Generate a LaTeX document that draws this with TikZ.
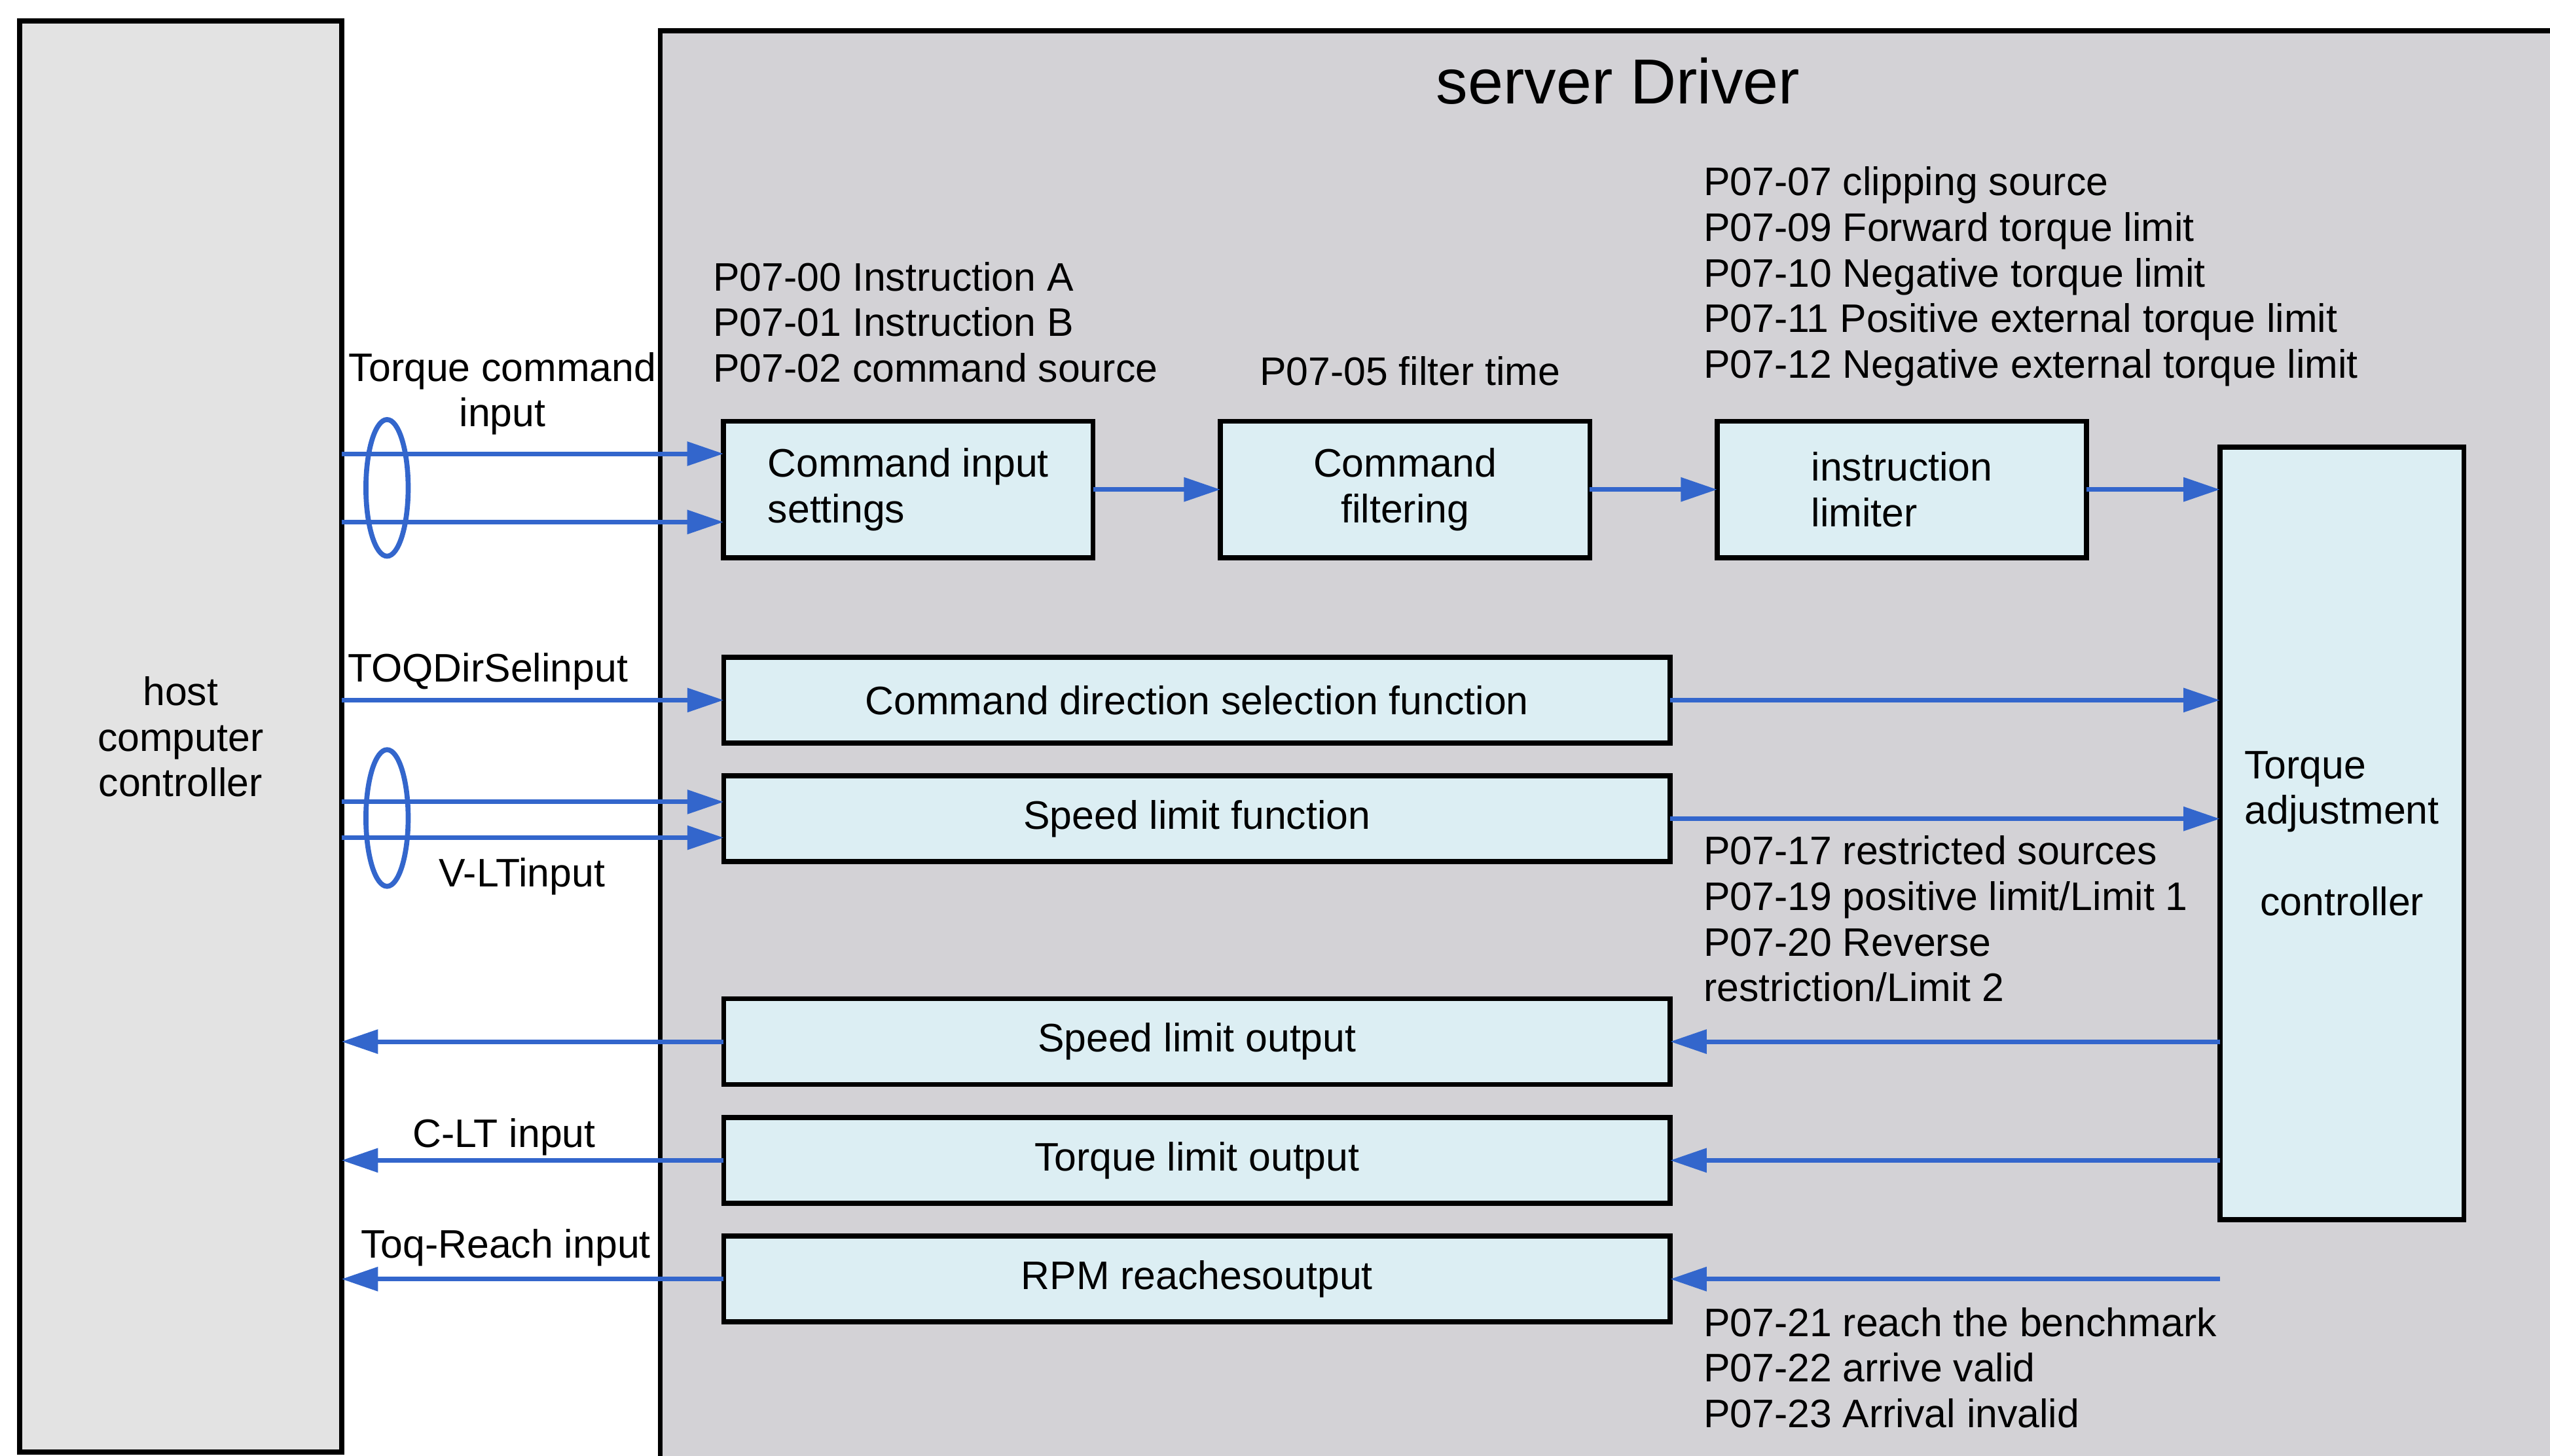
\documentclass[tikz,border=0pt]{standalone}
\usepackage{fontspec}
\setmainfont{Liberation Sans}
\usetikzlibrary{arrows.meta,calc,positioning}
\definecolor{drvink}{HTML}{000000}
\definecolor{drvhost}{HTML}{E3E3E3}
\definecolor{drvpanel}{HTML}{D3D2D6}
\definecolor{drvbox}{HTML}{DCEEF3}
\definecolor{drvwire}{HTML}{3366CC}
\tikzset{
  every picture/.style={font=\fontsize{8.7}{9.96}\selectfont,text=drvink},
  block/.style={rectangle,draw=drvink,fill=drvbox,line width=1.1pt,
    outer sep=0pt,inner sep=2pt,minimum width=72.75mm,minimum height=6.6mm},
  stage/.style={block,minimum width=28.4mm,minimum height=10.5mm},
  wire/.style={draw=drvwire,line width=1pt,
    -{Triangle[length=2.8mm,width=1.8mm]}},
  bundle/.style={draw=drvwire,line width=1.1pt},
  param/.style={anchor=west,align=left,inner sep=0pt},
  wire label/.style={inner sep=0pt,align=center},
}

\begin{document}
\begin{tikzpicture}[x=0.125mm,y=-0.125mm]
  \useasboundingbox (0,0) rectangle (1568,895);
  \clip (0,0) rectangle (1568,895);
  % drive panel runs off the right and bottom edges
  \filldraw[fill=drvpanel,draw=drvink,line width=1.1pt] (406,19) rectangle (1600,930);
  \node[rectangle,draw=drvink,fill=drvhost,line width=1.1pt,outer sep=0pt,
    minimum width=24.75mm,minimum height=110mm,align=center] (host) at (111,453)
    {host\\computer\\controller};
  \node[font=\fontsize{13.9}{16}\selectfont] (title) at (995,50) {server Driver};

  \node[stage,align=left] (cis) at (558.5,301) {Command input\\settings};
  \node[stage,align=center] (cfl) at (864,301) {Command\\filtering};
  \node[stage,align=left] (lim) at (1169.5,301) {instruction\\limiter};
  \node[block,minimum width=18.75mm,minimum height=59.4mm,align=left] (tac) at (1440,512.5)
    {Torque\\adjustment\\[9.96pt]\hspace{0.39em}controller};
  \node[block] (dir) at (736,430.5) {Command direction selection function};
  \node[block] (slf) at (736,503.5) {Speed limit function};
  \node[block] (slo) at (736,640.5) {Speed limit output};
  \node[block] (tlo) at (736,713.5) {Torque limit output};
  \node[block] (rpm) at (736,786.5) {RPM reachesoutput};

  \node[param] (pcis) at (438,198) {P07-00 Instruction A\\P07-01 Instruction B\\P07-02 command source};
  \node[param] (pcfl) at (774,228) {P07-05 filter time};
  \node[param] (plim) at (1047,170) {P07-07 clipping source\\P07-09 Forward torque limit\\
    P07-10 Negative torque limit\\P07-11 Positive external torque limit\\P07-12 Negative external torque limit};
  \node[param] (pslf) at (1047,565) {P07-17 restricted sources\\P07-19 positive limit/Limit 1\\
    P07-20 Reverse\\restriction/Limit 2};
  \node[param] (prpm) at (1047,841) {P07-21 reach the benchmark\\P07-22 arrive valid\\P07-23 Arrival invalid};

  \node[wire label] (ltcmd) at (309,242) {Torque command\\input};
  \node[wire label] (ldir) at (300,413) {TOQDirSelinput};
  \node[wire label] (lvlt) at (321,539) {V-LTinput};
  \node[wire label] (lclt) at (310,699) {C-LT input};
  \node[wire label] (lreach) at (311,767) {Toq-Reach input};

  % host inputs
  \coordinate (cisa) at ([yshift=2.75mm]cis.west);
  \coordinate (cisb) at ([yshift=-2.5mm]cis.west);
  \coordinate (slfa) at ([yshift=1.3mm]slf.west);
  \coordinate (slfb) at ([yshift=-1.45mm]slf.west);
  \draw[wire] (host.east |- cisa) -- (cisa);
  \draw[wire] (host.east |- cisb) -- (cisb);
  \draw[bundle] (238,300) ellipse [x radius=13,y radius=42];
  \draw[wire] (host.east |- dir.west) -- (dir.west);
  \draw[wire] (host.east |- slfa) -- (slfa);
  \draw[wire] (host.east |- slfb) -- (slfb);
  \draw[bundle] (238,503) ellipse [x radius=13,y radius=42];

  % forward chain
  \draw[wire] (cis) -- (cfl);
  \draw[wire] (cfl) -- (lim);
  \draw[wire] (lim.east) -- (tac.west |- lim.east);
  \draw[wire] (dir.east) -- (tac.west |- dir.east);
  \draw[wire] (slf.east) -- (tac.west |- slf.east);

  % outputs back to the host
  \coordinate (rpmsrc) at (tac.west |- rpm.east);
  \draw[wire] (tac.west |- slo.east) -- (slo.east);
  \draw[wire] (tac.west |- tlo.east) -- (tlo.east);
  \draw[wire] (rpmsrc) -- (rpm.east);
  \draw[wire] (slo.west) -- (host.east |- slo.west);
  \draw[wire] (tlo.west) -- (host.east |- tlo.west);
  \draw[wire] (rpm.west) -- (host.east |- rpm.west);
\end{tikzpicture}
\end{document}
